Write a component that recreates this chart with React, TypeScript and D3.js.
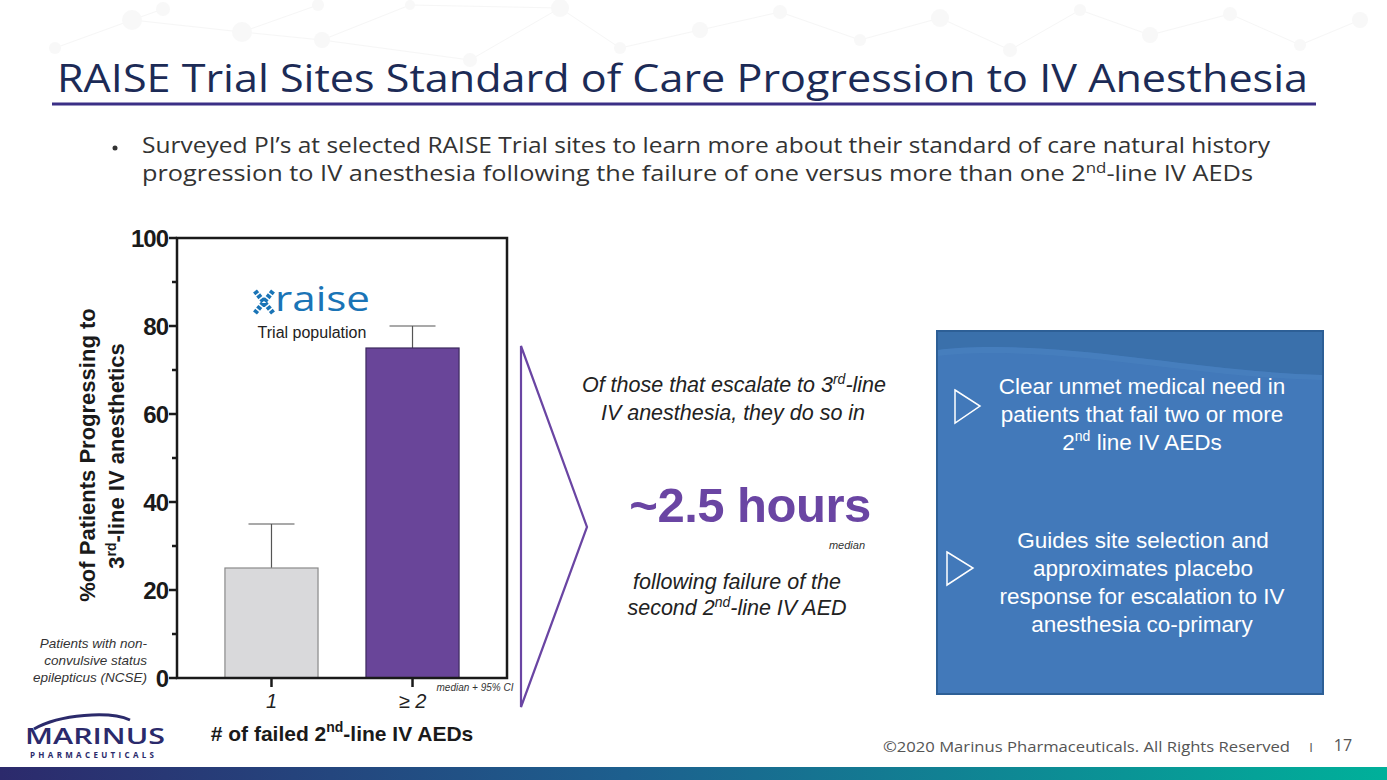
import React from "react";
import * as d3 from "d3";

const categories = ["1", "≥ 2"];
const medianValues = [25, 75];
const upperCI = [35, 80];
const yTicks = [0, 20, 40, 60, 80, 100];
const yMinorTicks = [10, 30, 50, 70, 90];

const bgNodes: [number, number, number][] = [
  [55, 48, 6], [132, 20, 10], [163, 9, 7], [242, 32, 10], [318, 5, 6], [322, 40, 8], [410, 5, 5],
  [470, 60, 7], [560, 8, 9], [620, 48, 6], [700, 30, 8], [780, 12, 7], [860, 40, 6], [940, 18, 9],
  [1010, 50, 7], [1080, 10, 6], [1150, 35, 8], [1230, 14, 7], [1300, 45, 6], [1360, 20, 8],
];
const bgEdges: [number, number][] = [
  [0, 1], [1, 2], [1, 3], [3, 4], [3, 5], [5, 6], [5, 7], [7, 8], [8, 9], [9, 10], [10, 11],
  [11, 12], [12, 13], [13, 14], [14, 15], [15, 16], [16, 17], [17, 18], [18, 19], [6, 8],
];

export default function App() {
  const y = d3.scaleLinear().domain([0, 100]).range([678, 238]);
  const x = d3.scaleBand<string>().domain(categories).range([177, 507]).paddingInner(0.34).paddingOuter(0.34);
  const barFill = ["#d9d9db", "#694599"];
  const barStroke = ["#8a8a8a", "#3d2a5e"];
  const bw = x.bandwidth();

  return (
    <svg width={1387} height={780} style={{ position: "absolute", left: 0, top: 0, background: "#fff" }}
      fontFamily="'Liberation Sans', Arial, sans-serif">
      <defs>
        <linearGradient id="footer" x1="0" x2="1" y1="0" y2="0">
          <stop offset="0" stopColor="#2c2a6c" />
          <stop offset="0.45" stopColor="#1d5f8e" />
          <stop offset="1" stopColor="#00b09a" />
        </linearGradient>
      </defs>
      {/* faint background network */}
      <g opacity={0.35}>
        {bgEdges.map(([a, b], i) => (
          <line key={i} x1={bgNodes[a][0]} y1={bgNodes[a][1]} x2={bgNodes[b][0]} y2={bgNodes[b][1]} stroke="#e6e6e6" strokeWidth={1} />
        ))}
        {bgNodes.map(([cx, cy, r], i) => (
          <circle key={i} cx={cx} cy={cy} r={r} fill="#ececec" />
        ))}
      </g>

      {/* title */}
      <text x={57} y={92} fontFamily="'Open Sans', sans-serif" fontSize={38} fill="#1c2b56" textLength={1251} lengthAdjust="spacingAndGlyphs">
        RAISE Trial Sites Standard of Care Progression to IV Anesthesia
      </text>
      <line x1={52} x2={1316} y1={104} y2={104} stroke="#3b2f86" strokeWidth={3} />

      {/* bullet */}
      <circle cx={115} cy={148} r={2.5} fill="#333" />
      <g fontFamily="'Open Sans', sans-serif" fontSize={21} fill="#333">
        <text x={142} y={153} textLength={1128} lengthAdjust="spacingAndGlyphs">
          Surveyed PI’s at selected RAISE Trial sites to learn more about their standard of care natural history
        </text>
        <text x={142} y={181} textLength={1111} lengthAdjust="spacingAndGlyphs">
          progression to IV anesthesia following the failure of one versus more than one 2<tspan dy={-8} fontSize={14}>nd</tspan><tspan dy={8}>-line IV AEDs</tspan>
        </text>
      </g>

      {/* chart */}
      <g>
        {categories.map((c, i) => (
          <g key={c}>
            <line x1={x(c)! + bw / 2} x2={x(c)! + bw / 2} y1={y(medianValues[i])} y2={y(upperCI[i])} stroke="#555" strokeWidth={1.2} />
            <line x1={x(c)! + bw / 2 - 23} x2={x(c)! + bw / 2 + 23} y1={y(upperCI[i])} y2={y(upperCI[i])} stroke="#555" strokeWidth={1.2} />
            <rect x={x(c)} y={y(medianValues[i])} width={bw} height={y(0) - y(medianValues[i])} fill={barFill[i]} stroke={barStroke[i]} strokeWidth={1.2} />
          </g>
        ))}
        <rect x={177} y={238} width={330} height={440} fill="none" stroke="#1a1a1a" strokeWidth={2.5} />
        {yTicks.map((t) => (
          <g key={t}>
            <line x1={169} x2={177} y1={y(t)} y2={y(t)} stroke="#1a1a1a" strokeWidth={2.5} />
            <text x={168} y={y(t) + 8.5} textAnchor="end" fontSize={24} fontWeight="bold" fill="#1a1a1a" letterSpacing={-1}>{t}</text>
          </g>
        ))}
        {yMinorTicks.map((t) => (
          <line key={t} x1={172} x2={177} y1={y(t)} y2={y(t)} stroke="#1a1a1a" strokeWidth={2.5} />
        ))}
        {categories.map((c) => (
          <g key={c}>
            <line x1={x(c)! + bw / 2} x2={x(c)! + bw / 2} y1={678} y2={687} stroke="#1a1a1a" strokeWidth={2.5} />
            <text x={x(c)! + bw / 2} y={708} textAnchor="middle" fontSize={20} fontStyle="italic" fill="#222">{c}</text>
          </g>
        ))}
        <text x={475} y={691} textAnchor="middle" fontSize={10} fontStyle="italic" fill="#333">median + 95% CI</text>

        {/* axis titles */}
        <g transform="translate(95,455) rotate(-90)">
          <text x={0} y={0} textAnchor="middle" fontSize={22} fontWeight="bold" fill="#1a1a1a">%of Patients Progressing to</text>
        </g>
        <g transform="translate(124,456) rotate(-90)">
          <text x={0} y={0} textAnchor="middle" fontSize={22} fontWeight="bold" fill="#1a1a1a">
            3<tspan dy={-8} fontSize={14}>rd</tspan><tspan dy={8}>-line IV anesthetics</tspan>
          </text>
        </g>
        <text x={342} y={741} textAnchor="middle" fontSize={21} fontWeight="bold" fill="#1a1a1a">
          # of failed 2<tspan dy={-9} fontSize={14}>nd</tspan><tspan dy={9}>-line IV AEDs</tspan>
        </text>

        <g fontSize={13.5} fontStyle="italic" fill="#333" textAnchor="end">
          <text x={147} y={648}>Patients with non-</text>
          <text x={147} y={665}>convulsive status</text>
          <text x={147} y={682}>epilepticus (NCSE)</text>
        </g>

        {/* raise logo */}
        <g transform="translate(264,302)">
          <path d="M-9,-11 L9,11 M9,-11 L-9,11" stroke="#1a74b6" strokeWidth={5} strokeDasharray="3.5,1.5" />
        </g>
        <text x={275} y={311} fontFamily="'Open Sans', sans-serif" fontSize={35} fill="#1a74b6" textLength={95} lengthAdjust="spacingAndGlyphs">raise</text>
        <text x={312} y={338} textAnchor="middle" fontSize={16} fill="#222">Trial population</text>
      </g>

      {/* chevron */}
      <path d="M521,346 L587,527 L521,707 Z" fill="none" stroke="#6a45a3" strokeWidth={2.2} strokeLinejoin="miter" />

      {/* middle text */}
      <g fontStyle="italic" fontSize={21.5} fill="#222" textAnchor="middle">
        <text x={734} y={392}>Of those that escalate to 3<tspan dy={-8} fontSize={14}>rd</tspan><tspan dy={8}>-line</tspan></text>
        <text x={733} y={420}>IV anesthesia, they do so in</text>
        <text x={737} y={589}>following failure of the</text>
        <text x={737} y={615}>second 2<tspan dy={-8} fontSize={14}>nd</tspan><tspan dy={8}>-line IV AED</tspan></text>
      </g>
      <text x={750} y={522} textAnchor="middle" fontSize={49} fontWeight="bold" fill="#6a45a3" letterSpacing={-0.5}>~2.5 hours</text>
      <text x={865} y={549} textAnchor="end" fontSize={11} fontStyle="italic" fill="#333">median</text>

      {/* blue box */}
      <rect x={937} y={331} width={386} height={363} fill="#4279ba" stroke="#2d5f96" strokeWidth={2} />
      <path d="M938,332 L1322,332 L1322,375 C1220,372 1120,352 1030,348 C990,346 960,347 938,350 Z" fill="#3a70ab" />
      <path d="M938,350 C960,347 990,346 1030,348 C1120,352 1220,372 1322,375 L1322,380 C1220,378 1120,358 1030,354 C990,352 960,353 938,356 Z" fill="#4a82c0" opacity={0.6} />
      <path d="M955,390 L980,406 L955,423 Z" fill="none" stroke="#fff" strokeWidth={1.5} />
      <path d="M947,552 L973,568 L947,585 Z" fill="none" stroke="#fff" strokeWidth={1.5} />
      <g fontSize={22.5} fill="#fff" textAnchor="middle">
        <text x={1142} y={394}>Clear unmet medical need in</text>
        <text x={1142} y={422}>patients that fail two or more</text>
        <text x={1142} y={450}>2<tspan dy={-9} fontSize={14}>nd</tspan><tspan dy={9}> line IV AEDs</tspan></text>
        <text x={1143} y={548}>Guides site selection and</text>
        <text x={1143} y={576}>approximates placebo</text>
        <text x={1142} y={604}>response for escalation to IV</text>
        <text x={1142} y={632}>anesthesia co-primary</text>
      </g>

      {/* logo */}
      <path d="M34,729 C60,714 110,711 130,720" fill="none" stroke="#2b2a6b" strokeWidth={3} />
      <text x={25} y={744} fontFamily="'Open Sans', sans-serif" fontWeight="600" fontSize={21} fill="#2b2a6b" textLength={140} lengthAdjust="spacingAndGlyphs">MARINUS</text>
      <text x={30} y={758} fontFamily="'Open Sans', sans-serif" fontWeight="bold" fontSize={8} fill="#2b2a6b" textLength={124} lengthAdjust="spacing">PHARMACEUTICALS</text>

      {/* footer */}
      <text x={883} y={752} fontFamily="'Open Sans', sans-serif" fontSize={14} fill="#555" textLength={407} lengthAdjust="spacingAndGlyphs">©2020 Marinus Pharmaceuticals. All Rights Reserved</text>
      <text x={1311} y={752} fontFamily="'Open Sans', sans-serif" fontSize={13} fill="#555" textAnchor="middle">I</text>
      <text x={1343} y={751} fontFamily="'Open Sans', sans-serif" fontSize={16} fill="#555" textAnchor="middle">17</text>
      <rect x={0} y={767} width={1387} height={13} fill="url(#footer)" />
    </svg>
  );
}
